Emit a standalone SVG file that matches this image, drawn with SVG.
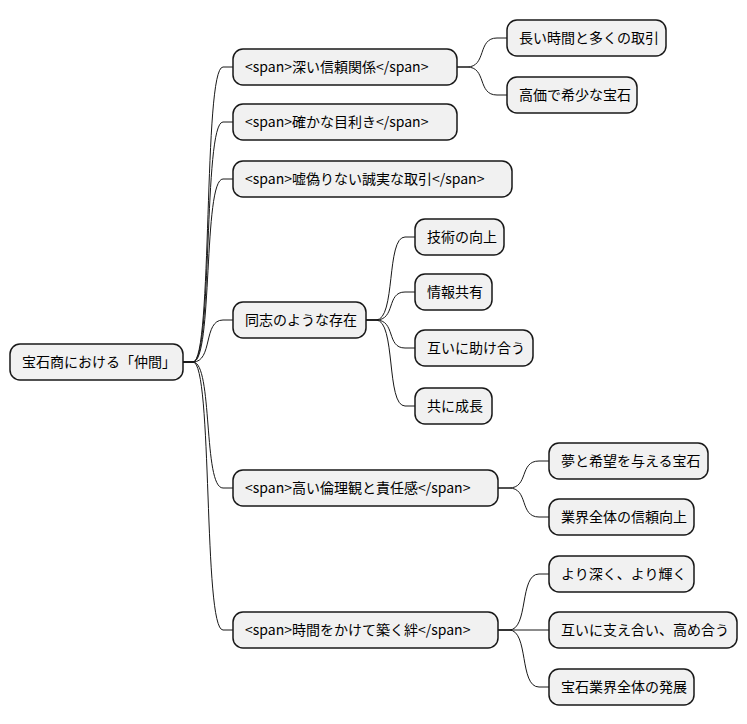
<svg xmlns="http://www.w3.org/2000/svg" width="747" height="724" viewBox="0 0 747 724">
<style>
.n rect{fill:#F1F1F1;stroke:#181818;stroke-width:1.5}
.n text{font-family:"Noto Sans CJK JP","Liberation Sans",sans-serif;font-size:14px;fill:#000}
#edges path{fill:none;stroke:#181818;stroke-width:1}
</style>
<rect width="747" height="724" fill="#fff"/>
<g id="edges">
<path d="M183,362 L193,362 C213,362 203,67 223,67 L233,67"/>
<path d="M183,362 L193,362 C213,362 203,122 223,122 L233,122"/>
<path d="M183,362 L193,362 C213,362 203,179 223,179 L233,179"/>
<path d="M183,362 L193,362 C213,362 203,320 223,320 L233,320"/>
<path d="M183,362 L193,362 C213,362 203,488 223,488 L233,488"/>
<path d="M183,362 L193,362 C213,362 203,630 223,630 L233,630"/>
<path d="M457,67 L467,67 C487,67 477,38 497,38 L507,38"/>
<path d="M457,67 L467,67 C487,67 477,95 497,95 L507,95"/>
<path d="M366,320 L376,320 C396,320 386,237 405,237 L415,237"/>
<path d="M366,320 L376,320 C396,320 386,292 405,292 L415,292"/>
<path d="M366,320 L376,320 C396,320 386,348 405,348 L415,348"/>
<path d="M366,320 L376,320 C396,320 386,406 405,406 L415,406"/>
<path d="M498,488 L509,488 C529,488 519,461 539,461 L549,461"/>
<path d="M498,488 L509,488 C529,488 519,517 539,517 L549,517"/>
<path d="M498,630 L509,630 C529,630 519,574 539,574 L549,574"/>
<path d="M498,630 L549,630"/>
<path d="M498,630 L509,630 C529,630 519,687 539,687 L549,687"/>
</g>
<g id="root" class="n"><rect x="10" y="344" width="173" height="36" rx="10"/><text x="22" y="367">宝石商における「仲間」</text></g>
<g id="n1" class="n"><rect x="233" y="49" width="224" height="36" rx="10"/><text x="245" y="72">&lt;span&gt;深い信頼関係&lt;/span&gt;</text></g>
<g id="n1a" class="n"><rect x="507" y="20" width="159" height="36" rx="10"/><text x="519" y="43">長い時間と多くの取引</text></g>
<g id="n1b" class="n"><rect x="507" y="77" width="130" height="36" rx="10"/><text x="519" y="100">高価で希少な宝石</text></g>
<g id="n2" class="n"><rect x="233" y="104" width="224" height="36" rx="10"/><text x="245" y="127">&lt;span&gt;確かな目利き&lt;/span&gt;</text></g>
<g id="n3" class="n"><rect x="233" y="161" width="279" height="36" rx="10"/><text x="245" y="184">&lt;span&gt;嘘偽りない誠実な取引&lt;/span&gt;</text></g>
<g id="n4" class="n"><rect x="233" y="302" width="133" height="36" rx="10"/><text x="245" y="325">同志のような存在</text></g>
<g id="n4a" class="n"><rect x="415" y="219" width="89" height="36" rx="10"/><text x="427" y="242">技術の向上</text></g>
<g id="n4b" class="n"><rect x="415" y="274" width="77" height="36" rx="10"/><text x="427" y="297">情報共有</text></g>
<g id="n4c" class="n"><rect x="415" y="330" width="118" height="36" rx="10"/><text x="427" y="353">互いに助け合う</text></g>
<g id="n4d" class="n"><rect x="415" y="388" width="77" height="36" rx="10"/><text x="427" y="411">共に成長</text></g>
<g id="n5" class="n"><rect x="233" y="470" width="265" height="36" rx="10"/><text x="245" y="493">&lt;span&gt;高い倫理観と責任感&lt;/span&gt;</text></g>
<g id="n5a" class="n"><rect x="549" y="443" width="159" height="36" rx="10"/><text x="561" y="466">夢と希望を与える宝石</text></g>
<g id="n5b" class="n"><rect x="549" y="499" width="145" height="36" rx="10"/><text x="561" y="522">業界全体の信頼向上</text></g>
<g id="n6" class="n"><rect x="233" y="612" width="265" height="36" rx="10"/><text x="245" y="635">&lt;span&gt;時間をかけて築く絆&lt;/span&gt;</text></g>
<g id="n6a" class="n"><rect x="549" y="556" width="145" height="36" rx="10"/><text x="561" y="579">より深く、より輝く</text></g>
<g id="n6b" class="n"><rect x="549" y="612" width="188" height="36" rx="10"/><text x="561" y="635">互いに支え合い、高め合う</text></g>
<g id="n6c" class="n"><rect x="549" y="669" width="145" height="36" rx="10"/><text x="561" y="692">宝石業界全体の発展</text></g>
</svg>
